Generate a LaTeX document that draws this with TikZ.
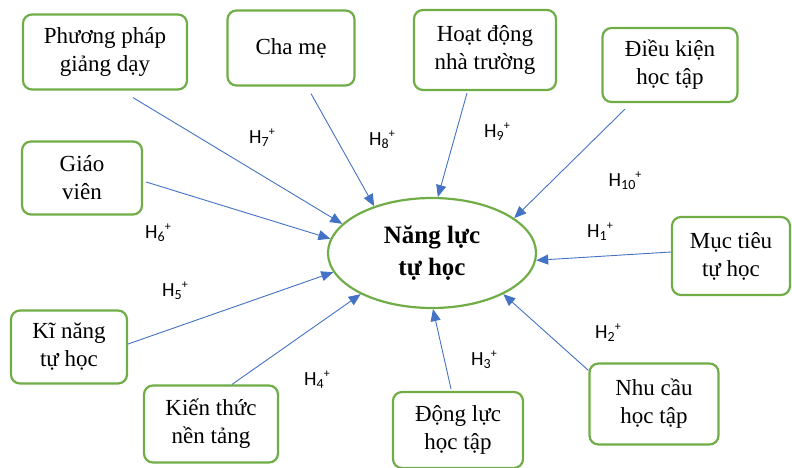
\documentclass[tikz,border=0pt]{standalone}
\usepackage{fontspec}
\setmainfont{Liberation Serif}
\newfontfamily\labelfont{Carlito}
\usetikzlibrary{arrows.meta,shapes.geometric}
\definecolor{boxgreen}{HTML}{70AD47}
\definecolor{arrblue}{HTML}{4472C4}
\tikzset{
  box/.style={draw=boxgreen, line width=2.2pt, rounded corners=9pt, align=center,
    font=\fontsize{23}{28}\selectfont, inner sep=0pt, minimum height=75pt},
  hyp/.style={font=\labelfont\fontsize{20}{22}\selectfont, inner sep=0pt},
  arr/.style={draw=arrblue, line width=0.9pt, -{Triangle[length=12pt,width=10pt]}}
}
\newcommand{\hname}[1]{H\raisebox{-3pt}{\fontsize{14}{14}\selectfont #1}\raisebox{8pt}{\fontsize{12}{12}\selectfont +}}

\begin{document}
\begin{tikzpicture}[x=1pt,y=-1pt]
    \useasboundingbox (0,0) rectangle (792,468);
    \node[draw=boxgreen, line width=2.2pt, ellipse, minimum width=208pt, minimum height=110pt,
      font=\bfseries\fontsize{25}{32}\selectfont, align=center] (nlth) at (432,253) {Năng lực\\tự học};
    \node[box, minimum width=164pt] (ppgd) at (105,52) {Phương pháp\\giảng dạy};
    \node[box, minimum width=127pt] (chame) at (291,48) {Cha mẹ};
    \node[box, minimum width=142pt, minimum height=80pt] (hdnt) at (485,50) {Hoạt động\\nhà trường};
    \node[box, minimum width=135pt, minimum height=74pt] (dkht) at (670,65) {Điều kiện\\học tập};
    \node[box, minimum width=120pt, minimum height=73pt] (gv) at (82,178) {Giáo\\viên};
    \node[box, minimum width=118pt, minimum height=78pt] (mtth) at (731,256) {Mục tiêu\\tự học};
    \node[box, minimum width=116pt, minimum height=73pt] (knth) at (69,347) {Kĩ năng\\tự học};
    \node[box, minimum width=134pt, minimum height=77pt] (ktnt) at (211,424) {Kiến thức\\nền tảng};
    \node[box, minimum width=130pt, minimum height=76pt] (dlht) at (458,430) {Động lực\\học tập};
    \node[box, minimum width=129pt, minimum height=81pt] (ncht) at (654,404) {Nhu cầu\\học tập};
    \draw[arr] ([xshift=28pt,yshift=-7pt]ppgd.south) -- (nlth.162);
    \draw[arr] ([xshift=20pt,yshift=-7pt]chame.south) -- (nlth.141);
    \draw[arr] ([xshift=-18pt,yshift=-2pt]hdnt.south) -- (nlth.84);
    \draw[arr] ([xshift=-45pt,yshift=-6pt]dkht.south) -- (nlth.23);
    \draw[arr] ([xshift=3pt,yshift=-4pt]gv.east) -- (nlth.172);
    \draw[arr] ([yshift=4pt]mtth.west) -- (nlth.-4);
    \draw[arr] ([yshift=3pt]knth.east) -- (nlth.191);
    \draw[arr] ([xshift=21pt]ktnt.north) -- (nlth.210);
    \draw[arr] ([xshift=-7pt,yshift=2pt]dlht.north) -- (nlth.271);
    \draw[arr] ([yshift=-8pt]ncht.north west) -- (nlth.330);
    \node[hyp] (h7) at (262,138) {\hname{7}};
    \node[hyp] (h8) at (382,140) {\hname{8}};
    \node[hyp] (h9) at (497,132) {\hname{9}};
    \node[hyp] (h10) at (625,181) {\hname{10}};
    \node[hyp] (h1) at (600,232) {\hname{1}};
    \node[hyp] (h6) at (158,233) {\hname{6}};
    \node[hyp] (h5) at (175,291) {\hname{5}};
    \node[hyp] (h2) at (608,333) {\hname{2}};
    \node[hyp] (h3) at (484,360) {\hname{3}};
    \node[hyp] (h4) at (317,380) {\hname{4}};
\end{tikzpicture}
\end{document}
